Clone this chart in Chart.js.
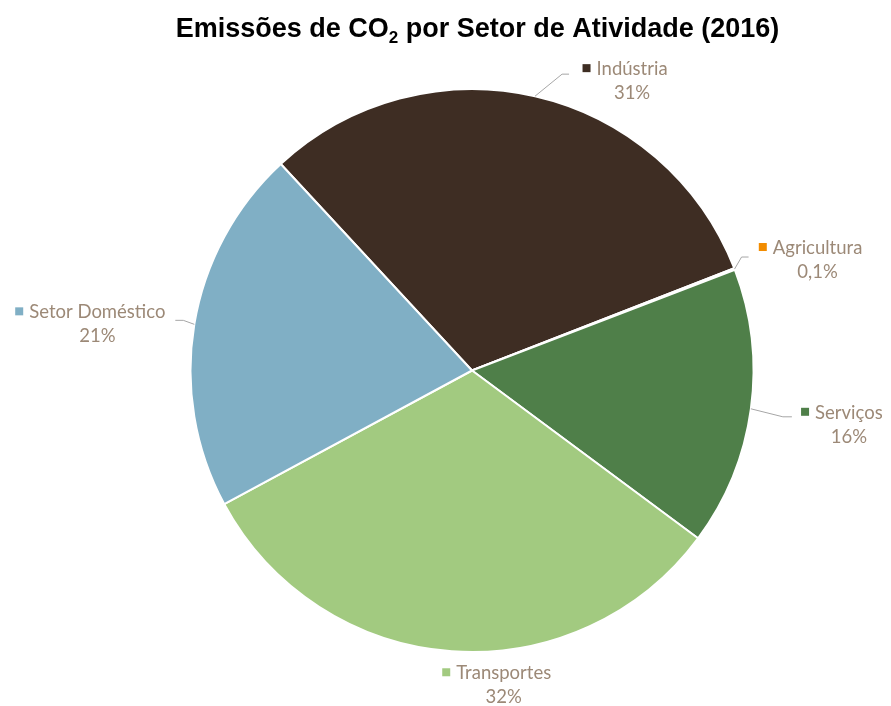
<!DOCTYPE html>
<html>
<head>
<meta charset="utf-8">
<script src="https://cdn.jsdelivr.net/npm/chart.js@4"></script>
<style>
  html, body { margin: 0; padding: 0; background: #fff; }
  #wrap { width: 891px; height: 706px; position: relative; }
</style>
</head>
<body>
<div id="wrap"><canvas id="chart"></canvas></div>
<script>
// Data
const sectors = ['Indústria', 'Agricultura', 'Serviços', 'Transportes', 'Setor Doméstico'];
const shares = [31, 0.1, 16, 32, 21];
const shareLabels = ['31%', '0,1%', '16%', '32%', '21%'];
const sliceColors = ['#3e2d23', '#f28c00', '#4f7f49', '#a2ca80', '#80afc5'];

// Label placement relative to the slice's outer midpoint (text centre, leader elbow)
const labelOffsets = [
    { dx: 97, dy: -27, elbow: [27, -22], end: [34, -22] },
    { dx: 83, dy: -21, elbow: [7, -12], end: [14, -12] },
    { dx: 98, dy: 4, elbow: [32, 8], end: [41, 8] },
    { dx: 52, dy: 22, elbow: null, end: null },
    { dx: -97, dy: -12, elbow: [-11, -4], end: [-19, -4] }
];

const labelFont = "18.5px 'Lato', sans-serif";
const labelColor = '#9c8977';

// Title with subscript "2"
const titlePlugin = {
    id: 'subTitle',
    afterDraw(chart) {
        const ctx = chart.ctx;
        const big = "bold 27px 'Liberation Sans', Arial, sans-serif";
        const small = "bold 17px 'Liberation Sans', Arial, sans-serif";
        const parts = [['Emissões de CO', big, 0], ['2', small, 6], [' por Setor de Atividade (2016)', big, 0]];
        ctx.save();
        let total = 0;
        parts.forEach(p => { ctx.font = p[1]; total += ctx.measureText(p[0]).width; });
        let x = 477.5 - total / 2;
        const y = 37;
        ctx.fillStyle = '#000';
        ctx.textBaseline = 'alphabetic';
        parts.forEach(p => {
            ctx.font = p[1];
            ctx.fillText(p[0], x, y + p[2]);
            x += ctx.measureText(p[0]).width;
        });
        ctx.restore();
    }
};

// Outside labels with legend key and leader lines
const outsideLabels = {
    id: 'outsideLabels',
    afterDraw(chart) {
        const ctx = chart.ctx;
        const meta = chart.getDatasetMeta(0);
        ctx.save();
        meta.data.forEach((arc, i) => {
            const mid = (arc.startAngle + arc.endAngle) / 2;
            const r = arc.outerRadius;
            const ax = arc.x + Math.cos(mid) * r;
            const ay = arc.y + Math.sin(mid) * r;
            const o = labelOffsets[i];
            if (o.elbow) {
                ctx.strokeStyle = '#a6a6a6';
                ctx.lineWidth = 1;
                ctx.beginPath();
                ctx.moveTo(ax, ay);
                ctx.lineTo(ax + o.elbow[0], ay + o.elbow[1]);
                ctx.lineTo(ax + o.end[0], ay + o.end[1]);
                ctx.stroke();
            }
            const cx = ax + o.dx;
            const cy = ay + o.dy;
            ctx.font = labelFont;
            ctx.fillStyle = labelColor;
            ctx.textAlign = 'center';
            ctx.textBaseline = 'middle';
            ctx.fillText(sectors[i], cx, cy);
            ctx.fillText(shareLabels[i], cx, cy + 24);
            const w = ctx.measureText(sectors[i]).width;
            ctx.fillStyle = sliceColors[i];
            ctx.fillRect(cx - w / 2 - 14, cy - 5, 8, 8);
        });
        ctx.restore();
    }
};

new Chart(document.getElementById('chart'), {
    type: 'pie',
    data: {
        labels: sectors,
        datasets: [{
            data: shares,
            backgroundColor: sliceColors,
            borderColor: '#ffffff',
            borderWidth: 2,
            hoverOffset: 0
        }]
    },
    options: {
        responsive: true,
        maintainAspectRatio: false,
        animation: false,
        rotation: -42.8,
        layout: { padding: { top: 88, bottom: 53, left: 150, right: 97 } },
        plugins: {
            legend: { display: false },
            tooltip: { enabled: false },
            title: { display: false }
        }
    },
    plugins: [titlePlugin, outsideLabels]
});
</script>
</body>
</html>
